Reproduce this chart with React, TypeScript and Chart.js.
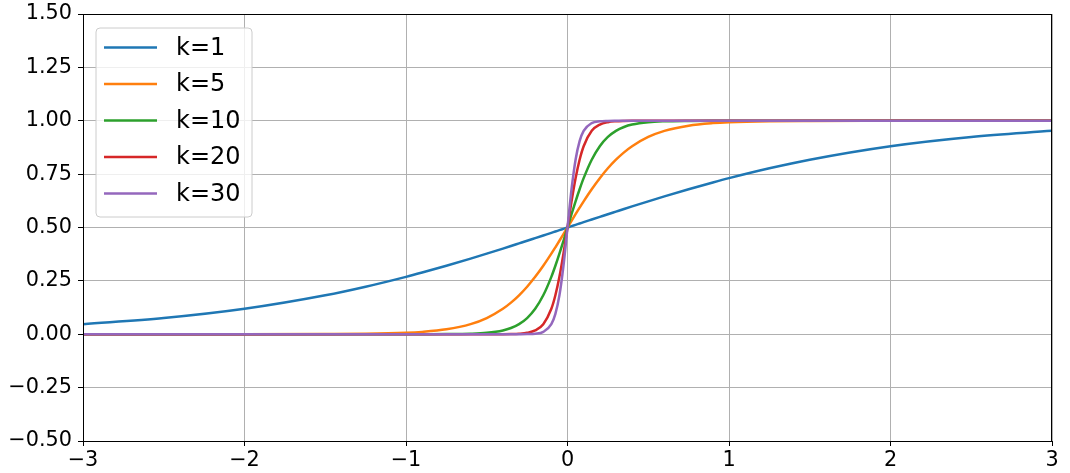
import React, { useEffect, useRef } from "react";
import { Chart, registerables } from "chart.js";

Chart.register(...registerables);

const xValues = [
  -3, -2.5, -2, -1.5, -1.25, -1, -0.9, -0.75, -0.6, -0.5, -0.4, -0.35, -0.3, -0.25, -0.2, -0.15, -0.1, -0.075, -0.05, -0.025,
  0,
  0.025, 0.05, 0.075, 0.1, 0.15, 0.2, 0.25, 0.3, 0.35, 0.4, 0.5, 0.6, 0.75, 0.9, 1, 1.25, 1.5, 2, 2.5, 3,
];

const k1 = [
  0.0474, 0.0759, 0.1192, 0.1824, 0.2227, 0.2689, 0.2891, 0.3208, 0.3543, 0.3775, 0.4013, 0.4134, 0.4256, 0.4378, 0.4502, 0.4626, 0.475, 0.4813, 0.4875, 0.4938,
  0.5,
  0.5062, 0.5125, 0.5187, 0.525, 0.5374, 0.5498, 0.5622, 0.5744, 0.5866, 0.5987, 0.6225, 0.6457, 0.6792, 0.7109, 0.7311, 0.7773, 0.8176, 0.8808, 0.9241, 0.9526,
];
const k5 = [
  0, 0, 0, 0.0006, 0.0019, 0.0067, 0.011, 0.023, 0.0474, 0.0759, 0.1192, 0.148, 0.1824, 0.2227, 0.2689, 0.3208, 0.3775, 0.4073, 0.4378, 0.4688,
  0.5,
  0.5312, 0.5622, 0.5927, 0.6225, 0.6792, 0.7311, 0.7773, 0.8176, 0.852, 0.8808, 0.9241, 0.9526, 0.977, 0.989, 0.9933, 0.9981, 0.9994, 1, 1, 1,
];
const k10 = [
  0, 0, 0, 0, 0, 0, 0.0001, 0.0006, 0.0025, 0.0067, 0.018, 0.0293, 0.0474, 0.0759, 0.1192, 0.1824, 0.2689, 0.3208, 0.3775, 0.4378,
  0.5,
  0.5622, 0.6225, 0.6792, 0.7311, 0.8176, 0.8808, 0.9241, 0.9526, 0.9707, 0.982, 0.9933, 0.9975, 0.9994, 0.9999, 1, 1, 1, 1, 1, 1,
];
const k20 = [
  0, 0, 0, 0, 0, 0, 0, 0, 0, 0, 0.0003, 0.0009, 0.0025, 0.0067, 0.018, 0.0474, 0.1192, 0.1824, 0.2689, 0.3775,
  0.5,
  0.6225, 0.7311, 0.8176, 0.8808, 0.9526, 0.982, 0.9933, 0.9975, 0.9991, 0.9997, 1, 1, 1, 1, 1, 1, 1, 1, 1, 1,
];
const k30 = [
  0, 0, 0, 0, 0, 0, 0, 0, 0, 0, 0, 0, 0.0001, 0.0006, 0.0025, 0.011, 0.0474, 0.0953, 0.1824, 0.3208,
  0.5,
  0.6792, 0.8176, 0.9047, 0.9526, 0.989, 0.9975, 0.9994, 0.9999, 1, 1, 1, 1, 1, 1, 1, 1, 1, 1, 1, 1,
];

const seriesLabels = ["k=1", "k=5", "k=10", "k=20", "k=30"];
const seriesValues = [k1, k5, k10, k20, k30];
const seriesColors = ["#1f77b4", "#ff7f0e", "#2ca02c", "#d62728", "#9467bd"];

const FONT = "'DejaVu Sans', sans-serif";

const fmtMinus = (s: string) => s.replace("-", "\u2212");

const framePlugin = {
  id: "frame",
  afterDatasetsDraw(chart: any) {
    const { ctx, chartArea } = chart;
    ctx.save();
    ctx.strokeStyle = "#000";
    ctx.lineWidth = 1;
    ctx.strokeRect(
      Math.round(chartArea.left) + 0.5,
      Math.round(chartArea.top) + 0.5,
      Math.round(chartArea.right - chartArea.left) - 1,
      Math.round(chartArea.bottom - chartArea.top)
    );
    ctx.restore();
  },
};

const legendPlugin = {
  id: "boxLegend",
  afterDraw(chart: any) {
    const { ctx } = chart;
    const x0 = 96, y0 = 28, w = 156, h = 189, r = 4;
    ctx.save();
    ctx.beginPath();
    ctx.moveTo(x0 + r, y0);
    ctx.lineTo(x0 + w - r, y0);
    ctx.arcTo(x0 + w, y0, x0 + w, y0 + r, r);
    ctx.lineTo(x0 + w, y0 + h - r);
    ctx.arcTo(x0 + w, y0 + h, x0 + w - r, y0 + h, r);
    ctx.lineTo(x0 + r, y0 + h);
    ctx.arcTo(x0, y0 + h, x0, y0 + h - r, r);
    ctx.lineTo(x0, y0 + r);
    ctx.arcTo(x0, y0, x0 + r, y0, r);
    ctx.closePath();
    ctx.fillStyle = "rgba(255,255,255,0.8)";
    ctx.fill();
    ctx.strokeStyle = "#cccccc";
    ctx.lineWidth = 1;
    ctx.stroke();
    ctx.font = `24px ${FONT}`;
    ctx.textBaseline = "middle";
    ctx.fillStyle = "#000";
    chart.data.datasets.forEach((ds: any, i: number) => {
      const y = 47.5 + i * 36.5;
      ctx.beginPath();
      ctx.strokeStyle = ds.borderColor;
      ctx.lineWidth = 2.5;
      ctx.moveTo(104, y);
      ctx.lineTo(157, y);
      ctx.stroke();
      ctx.fillText(ds.label, 176, y + 1);
    });
    ctx.restore();
  },
};

export default function App() {
  const ref = useRef<HTMLCanvasElement | null>(null);

  useEffect(() => {
    document.body.style.margin = "0";
    if (!ref.current) return;
    const chart = new Chart(ref.current, {
      type: "line",
      data: {
        datasets: seriesLabels.map((label, i) => ({
          label,
          data: xValues.map((x, j) => ({ x, y: seriesValues[i][j] })),
          borderColor: seriesColors[i],
          backgroundColor: seriesColors[i],
          borderWidth: 2.5,
          pointRadius: 0,
          fill: false,
          cubicInterpolationMode: "monotone" as const,
          order: seriesLabels.length - 1 - i,
        })),
      },
      options: {
        responsive: false,
        animation: false,
        layout: { padding: { left: 0, right: 18, top: 14, bottom: 0 } },
        plugins: {
          legend: { display: false },
          tooltip: { enabled: false },
        },
        scales: {
          x: {
            type: "linear",
            min: -3,
            max: 3,
            afterFit: (s: any) => {
              s.height = 32;
              s.paddingLeft = 0;
              s.paddingRight = 0;
            },
            ticks: {
              stepSize: 1,
              color: "#000",
              padding: 2,
              font: { family: FONT, size: 20.8 },
              callback: (v: any) => fmtMinus(String(v)),
            },
            grid: { color: "#b0b0b0", lineWidth: 1, tickColor: "#000", tickLength: 5 },
            border: { display: false },
          },
          y: {
            min: -0.5,
            max: 1.5,
            afterFit: (s: any) => {
              s.width = 83;
              s.paddingTop = 0;
              s.paddingBottom = 0;
            },
            ticks: {
              stepSize: 0.25,
              color: "#000",
              padding: 6,
              font: { family: FONT, size: 20.8 },
              callback: (v: any) => fmtMinus(Number(v).toFixed(2)),
            },
            grid: { color: "#b0b0b0", lineWidth: 1, tickColor: "#000", tickLength: 5 },
            border: { display: false },
          },
        },
      },
      plugins: [framePlugin, legendPlugin],
    });
    return () => chart.destroy();
  }, []);

  return (
    <div style={{ width: 1070, height: 473 }}>
      <canvas ref={ref} width={1070} height={473} />
    </div>
  );
}
